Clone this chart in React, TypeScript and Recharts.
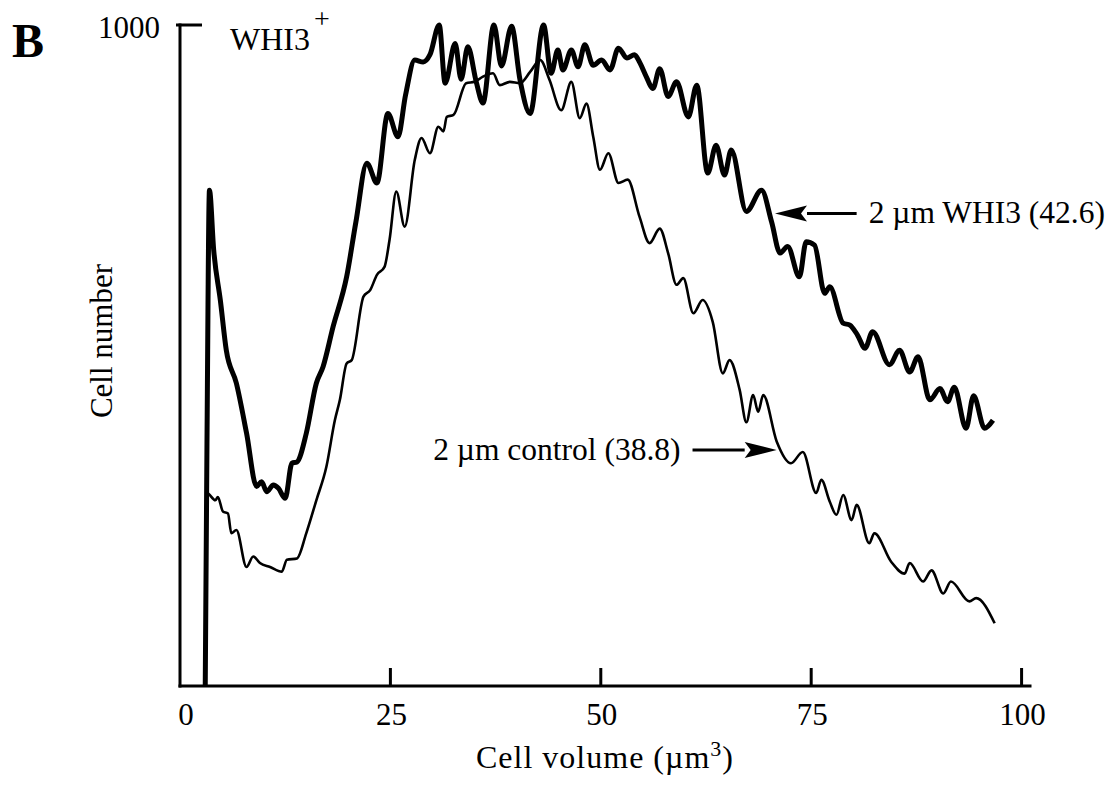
import { LineChart, Line, XAxis, YAxis, ReferenceLine } from "recharts";

// Cell volume (µm³) and cell number
const whi3Volume = [
  3.0, 3.2, 3.5, 4.0, 4.8, 5.5, 6.7, 7.9, 9.1, 9.7, 10.3, 11.1, 11.7, 12.5, 13.3, 13.9, 15.0, 16.2, 17.0, 18.2,
  19.8, 20.9, 22.2, 23.4, 24.7, 25.9, 26.8, 27.9, 28.9, 29.7, 30.8, 31.5, 32.7, 33.4, 34.2, 35.2, 36.0, 37.3, 38.2,
  39.4, 40.4, 41.6, 43.2, 44.1, 44.9, 45.5, 46.5, 47.3, 48.1, 49.1, 50.1, 51.1, 52.1, 53.1, 54.0, 54.6, 55.4, 56.2,
  57.0, 58.0, 59.0, 60.4, 61.4, 62.7, 63.7, 64.7, 65.5, 67.3, 69.1, 70.3, 71.3, 72.2, 73.6, 74.4, 75.4, 76.6, 77.2,
  78.8, 79.6, 80.5, 81.4, 82.3, 84.3, 85.5, 86.7, 87.7, 89.1, 90.3, 91.2, 92.0, 93.4, 94.3, 95.6, 96.6,
];
const whi3Cells = [
  0, 357, 750, 660, 583, 508, 458, 383, 302, 309, 294, 304, 299, 284, 337, 339, 382, 458, 483, 544,
  619, 702, 791, 761, 866, 831, 894, 947, 944, 955, 1000, 912, 972, 918, 967, 914, 882, 1000, 938,
  998, 917, 866, 1000, 927, 962, 932, 962, 937, 970, 939, 947, 932, 965, 950, 955, 944, 922, 904,
  934, 892, 914, 861, 909, 776, 818, 773, 811, 718, 750, 702, 655, 665, 619, 672, 667, 594, 604,
  549, 546, 531, 511, 536, 486, 508, 475, 498, 433, 450, 430, 452, 390, 439, 390, 402,
];

const controlVolume = [
  3.0, 3.2, 4.2, 4.5, 5.1, 5.7, 6.1, 6.7, 7.9, 8.7, 9.5, 10.7, 12.1, 12.7, 13.9, 15.0, 16.2, 17.4, 18.4, 19.0,
  19.8, 20.4, 21.8, 22.6, 23.4, 24.3, 24.9, 25.7, 26.7, 27.9, 28.7, 29.7, 30.7, 31.3, 31.7, 32.5, 34.0, 35.0, 36.0,
  37.2, 38.0, 39.2, 40.4, 41.6, 42.8, 43.9, 45.3, 46.5, 47.5, 48.3, 49.1, 49.9, 50.9, 52.1, 53.2, 54.6, 55.8, 57.0,
  58.0, 59.0, 59.8, 61.0, 62.1, 63.3, 64.5, 65.3, 66.5, 67.3, 68.1, 68.7, 69.3, 70.9, 72.6, 74.0, 75.6, 76.2, 77.2,
  78.0, 78.8, 79.8, 80.4, 81.9, 82.5, 84.5, 86.1, 86.7, 88.3, 89.3, 90.7, 91.6, 93.8, 94.6, 96.8,
];
const controlCells = [
  0, 292, 281, 286, 264, 261, 231, 236, 180, 196, 186, 180, 173, 191, 193, 231, 281, 332, 402, 433,
  488, 493, 589, 599, 622, 634, 675, 748, 695, 796, 829, 806, 846, 839, 861, 864, 912, 914, 922,
  927, 909, 914, 912, 929, 947, 917, 871, 914, 859, 881, 831, 781, 806, 761, 766, 710, 670, 692,
  655, 607, 617, 564, 584, 551, 473, 493, 448, 399, 440, 415, 440, 370, 337, 354, 292, 312, 279,
  259, 289, 251, 274, 216, 231, 188, 170, 186, 158, 175, 140, 158, 128, 133, 95,
];

const volumeTicks = [0, 25, 50, 75, 100];
const cellTicks = [1000];

const FONT = '"Liberation Serif", "Times New Roman", serif';

const toPoints = (xs: number[], ys: number[]) =>
  xs.map((x, i) => ({ volume: x, cells: ys[i] }));

const whi3Data = toPoints(whi3Volume, whi3Cells);
const controlData = toPoints(controlVolume, controlCells);

function VolumeTick(props: any) {
  const { x, y, payload } = props;
  const v = payload.value;
  return (
    <g>
      {v !== 0 && (
        <line x1={x} x2={x} y1={y} y2={y - 18} stroke="#000" strokeWidth={3} />
      )}
      <text
        x={x + (v === 0 ? 6 : 1)}
        y={y + 39}
        textAnchor="middle"
        fontFamily={FONT}
        fontSize={31}
        fill="#000"
      >
        {v}
      </text>
    </g>
  );
}

function CellTick(props: any) {
  const { x, y, payload } = props;
  return (
    <g>
      <line x1={x - 4} x2={x + 22} y1={y} y2={y} stroke="#000" strokeWidth={3} />
      <text x={x - 20} y={y + 13} textAnchor="end" fontFamily={FONT} fontSize={31} fill="#000">
        {payload.value}
      </text>
    </g>
  );
}

// arrow drawn from tail (x1) to tip (x2), label sits beside the tail
const arrowNote = (label: string) => (props: any) => {
  const { x1, y1, x2, y2 } = props;
  const dir = x2 > x1 ? 1 : -1;
  const head = 32;
  const half = 8;
  return (
    <g>
      <line x1={x1} y1={y1} x2={x2 - dir * head} y2={y2} stroke="#000" strokeWidth={3} />
      <polygon
        points={`${x2},${y2} ${x2 - dir * head},${y2 - half} ${x2 - dir * (head - 6)},${y2} ${x2 - dir * head},${y2 + half}`}
        fill="#000"
      />
      <text
        x={x1 - dir * 12}
        y={y1 + 10}
        textAnchor={dir > 0 ? "end" : "start"}
        fontFamily={FONT}
        fontSize={31.5}
        fill="#000"
      >
        {label}
      </text>
    </g>
  );
};

export default function App() {
  return (
    <div style={{ position: "absolute", left: 0, top: 0, width: 1112, height: 792, background: "#fff" }}>
      <LineChart
        width={1112}
        height={792}
        margin={{ top: 25, right: 82, left: 100, bottom: 46 }}
      >
        <XAxis
          type="number"
          dataKey="volume"
          domain={[0, 101]}
          ticks={volumeTicks}
          height={60}
          tickSize={0}
          tickMargin={0}
          tickLine={false}
          tick={<VolumeTick />}
          axisLine={{ stroke: "#000", strokeWidth: 3, strokeLinecap: "square" }}
        />
        <YAxis
          type="number"
          dataKey="cells"
          domain={[0, 1000]}
          ticks={cellTicks}
          width={80}
          tickSize={0}
          tickMargin={0}
          tickLine={false}
          tick={<CellTick />}
          axisLine={{ stroke: "#000", strokeWidth: 3, strokeLinecap: "square" }}
        />
        <Line
          data={controlData}
          dataKey="cells"
          type="monotone"
          stroke="#000"
          strokeWidth={2.6}
          strokeLinejoin="round"
          dot={false}
          activeDot={false}
          isAnimationActive={false}
        />
        <Line
          data={whi3Data}
          dataKey="cells"
          type="monotone"
          stroke="#000"
          strokeWidth={5}
          strokeLinejoin="round"
          dot={false}
          activeDot={false}
          isAnimationActive={false}
        />
        <ReferenceLine
          segment={[{ x: 80.4, y: 715 }, { x: 70.7, y: 715 }]}
          shape={arrowNote("2 \u00b5m WHI3 (42.6)")}
        />
        <ReferenceLine
          segment={[{ x: 60.9, y: 357 }, { x: 70.9, y: 357 }]}
          shape={arrowNote("2 \u00b5m control (38.8)")}
        />
      </LineChart>
      <svg
        width={1112}
        height={792}
        style={{ position: "absolute", left: 0, top: 0, pointerEvents: "none" }}
      >
        <text x={12} y={57} fontFamily={FONT} fontSize={48} fontWeight="bold" fill="#000">
          B
        </text>
        <text x={230} y={50} fontFamily={FONT} fontSize={32} fill="#000">
          WHI3
          <tspan fontSize={28} dx={4} dy={-22}>+</tspan>
        </text>
        <text
          x={112}
          y={341}
          transform="rotate(-90 112 341)"
          textAnchor="middle"
          fontFamily={FONT}
          fontSize={31}
          fill="#000"
        >
          Cell number
        </text>
        <text x={605} y={768} textAnchor="middle" fontFamily={FONT} fontSize={32} letterSpacing={1} fill="#000">
          Cell volume (µm<tspan fontSize={22} dy={-12}>3</tspan><tspan dy={12}>)</tspan>
        </text>
      </svg>
    </div>
  );
}
